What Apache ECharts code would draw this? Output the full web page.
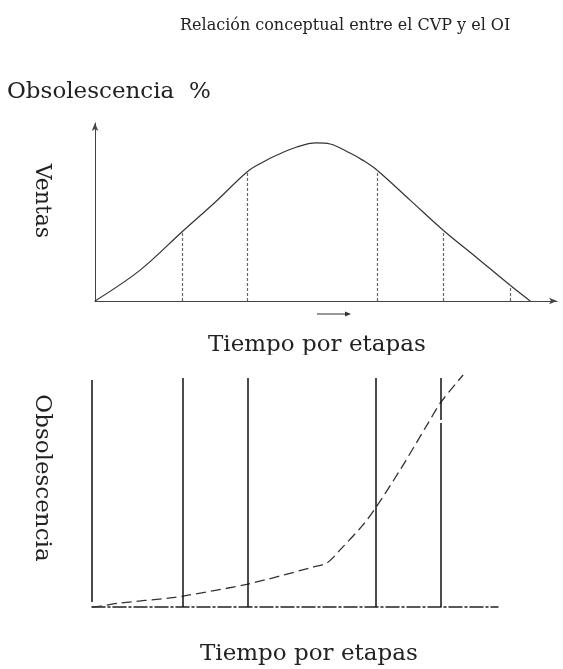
<!DOCTYPE html>
<html>
<head>
<meta charset="utf-8">
<script src="https://cdn.jsdelivr.net/npm/echarts@6/dist/echarts.min.js"></script>
<style>
  html, body { margin: 0; padding: 0; background: #fff; }
  #chart { width: 563px; height: 669px; }
</style>
</head>
<body>
<div id="chart"></div>
<script>
// curva de ventas (tiempo, ventas)
const salesCurve = [
  [0, 0], [9.7, 17.2], [18.8, 38.8], [26.0, 55.5], [32.9, 72.5], [36.1, 77.7],
  [39.4, 82.0], [43.7, 86.5], [47.8, 88.8], [50.9, 88.2], [55.2, 83.1],
  [58.0, 79.0], [61.0, 73.6], [68.2, 56.7], [75.3, 39.9], [82.7, 24.2],
  [89.8, 9.0], [94.2, 0]
];
// etapas en la curva de ventas: posicion y altura de las lineas punteadas
const salesStages = [18.8, 32.9, 61.0, 75.3, 89.8];
const salesStageHeights = [38.8, 72.5, 73.6, 39.9, 9.0];

// curva de obsolescencia
const obsCurve = [
  [0, 0], [2.0, 0.4], [6.9, 1.7], [19.2, 3.9], [22.4, 4.7], [38.4, 9.9],
  [54.4, 17.2], [57.9, 19.0], [61.1, 24.6], [66.7, 35.3], [70.0, 43.1],
  [75.9, 59.1], [82.5, 78.4], [86.0, 88.4], [91.4, 100]
];
// lineas verticales de etapas (posicion, inicio, fin)
const obsStages = [
  [0, 2.2, 97.8], [22.4, 0, 98.7], [38.4, 0, 98.7], [70.0, 0, 98.7],
  [86.0, 0, 79.3], [86.0, 80.6, 98.7]
];

const titleText = 'Relación conceptual entre el CVP y el OI';
const topLabel = 'Obsolescencia  %';
const salesAxisName = 'Ventas';
const obsAxisName = 'Obsolescencia';
const timeAxisName = 'Tiempo por etapas';

const chart = echarts.init(document.getElementById('chart'), null, { renderer: 'canvas' });

const serif = 'DejaVu Serif';
const ink = '#222';

function text(str, x, y, size, rotated) {
  return {
    type: 'text',
    x: x,
    y: y,
    z: 10,
    rotation: rotated ? -Math.PI / 2 : 0,
    style: {
      text: str,
      fill: ink,
      font: size + 'px "' + serif + '"',
      align: rotated ? 'center' : 'left',
      verticalAlign: 'middle'
    }
  };
}

chart.setOption({
  animation: false,
  backgroundColor: '#fff',
  grid: [
    { left: 95, top: 123, width: 462, height: 178 },
    { left: 92, top: 375, width: 406, height: 232 }
  ],
  xAxis: [
    {
      gridIndex: 0, type: 'value', min: 0, max: 100,
      axisLine: {
        show: true, symbol: ['none', 'arrow'], symbolSize: [5, 8],
        lineStyle: { color: '#444', width: 1 }
      },
      axisTick: { show: false }, axisLabel: { show: false }, splitLine: { show: false }
    },
    {
      gridIndex: 1, type: 'value', min: 0, max: 100,
      axisLine: {
        show: true,
        lineStyle: { color: ink, width: 1.5, type: [13, 3, 2, 3] }
      },
      axisTick: { show: false }, axisLabel: { show: false }, splitLine: { show: false }
    }
  ],
  yAxis: [
    {
      gridIndex: 0, type: 'value', min: 0, max: 100,
      axisLine: {
        show: true, symbol: ['none', 'arrow'], symbolSize: [5, 8],
        lineStyle: { color: '#444', width: 1 }
      },
      axisTick: { show: false }, axisLabel: { show: false }, splitLine: { show: false }
    },
    {
      gridIndex: 1, type: 'value', min: 0, max: 100, show: false
    }
  ],
  series: [
    {
      name: salesAxisName,
      type: 'line',
      xAxisIndex: 0, yAxisIndex: 0,
      data: salesCurve,
      smooth: 0.35,
      symbol: 'none',
      clip: false,
      lineStyle: { color: '#333', width: 1.2 },
      markLine: {
        silent: true,
        symbol: 'none',
        label: { show: false },
        lineStyle: { color: '#666', width: 1.2, type: [3, 2] },
        data: salesStages.map((t, i) => [
          { coord: [t, 0] },
          { coord: [t, salesStageHeights[i]] }
        ])
      }
    },
    {
      name: obsAxisName,
      type: 'line',
      xAxisIndex: 1, yAxisIndex: 1,
      data: obsCurve,
      smooth: 0.3,
      symbol: 'none',
      clip: false,
      lineStyle: { color: '#333', width: 1.3, type: [10, 5] },
      markLine: {
        silent: true,
        symbol: 'none',
        label: { show: false },
        lineStyle: { color: '#111', width: 1.5, type: 'solid' },
        data: obsStages.map(s => [
          { coord: [s[0], s[1]] },
          { coord: [s[0], s[2]] }
        ])
      }
    }
  ],
  graphic: [
    text(titleText, 180, 26, 16),
    text(topLabel, 7, 92, 23),
    // flechita bajo el eje del tiempo
    { type: 'line', shape: { x1: 317, y1: 314, x2: 349, y2: 314 }, style: { stroke: '#333', lineWidth: 1 } },
    { type: 'polygon', shape: { points: [[351, 314], [345, 311.5], [345, 316.5]] }, style: { fill: '#333' } },
    text(timeAxisName, 208, 345, 23),
    // recorte del texto (como en la imagen original)
    { type: 'rect', z: 20, shape: { x: 190, y: 355, width: 280, height: 15 }, style: { fill: '#fff' } },
    text(timeAxisName, 200, 654, 23),
    text(salesAxisName, 42, 201, 22, true),
    text(obsAxisName, 42, 478, 23, true)
  ]
});
</script>
</body>
</html>
